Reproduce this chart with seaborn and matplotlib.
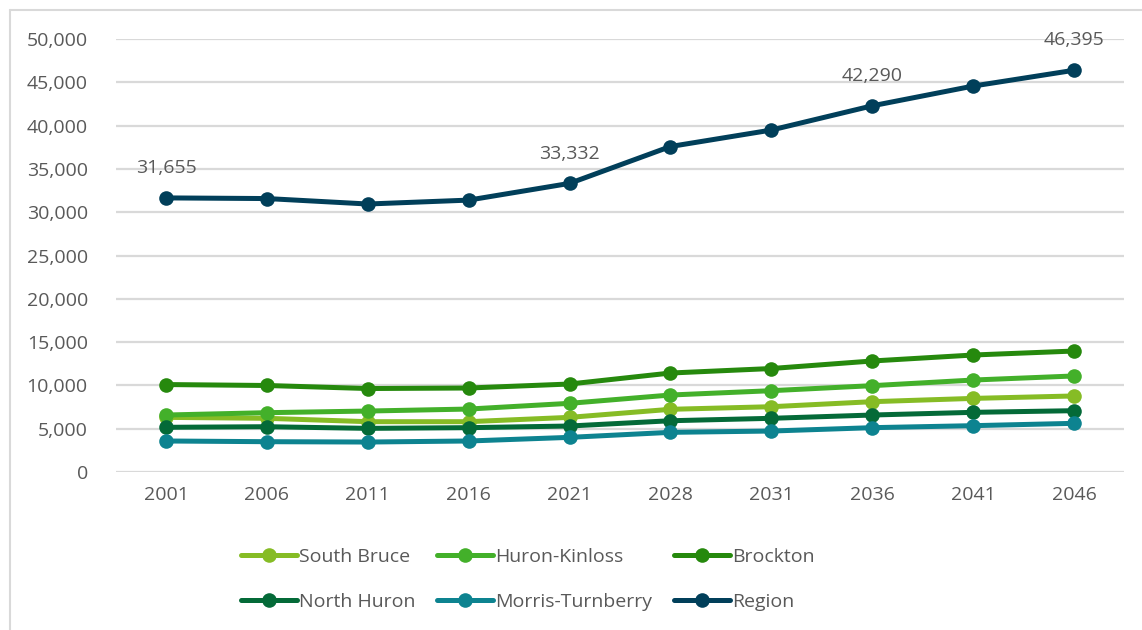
import numpy as np
import pandas as pd
import seaborn as sns
import matplotlib.pyplot as plt
from matplotlib.lines import Line2D

years = ["2001", "2006", "2011", "2016", "2021", "2028", "2031", "2036", "2041", "2046"]

south_bruce = [6310, 6200, 5810, 5810, 6310, 7240, 7540, 8120, 8500, 8780]
huron_kinloss = [6580, 6850, 7040, 7270, 7930, 8890, 9390, 9970, 10620, 11090]
brockton = [10100, 9990, 9640, 9700, 10160, 11430, 11950, 12820, 13510, 13970]
north_huron = [5160, 5230, 5040, 5120, 5310, 5920, 6200, 6580, 6890, 7080]
morris_turnberry = [3580, 3500, 3460, 3580, 4000, 4580, 4730, 5120, 5350, 5620]
region = [31655, 31580, 30950, 31400, 33332, 37590, 39490, 42290, 44570, 46395]

series_names = ["South Bruce", "Huron-Kinloss", "Brockton", "North Huron", "Morris-Turnberry", "Region"]
colors = ["#86BC25", "#43B02A", "#26890D", "#046A38", "#0D8390", "#013F5A"]

# labelled points on the Region line
label_years = ["2001", "2021", "2036", "2046"]

df = pd.DataFrame({
    "year": years * 6,
    "value": south_bruce + huron_kinloss + brockton + north_huron + morris_turnberry + region,
    "series": np.repeat(series_names, len(years)),
})

sns.set_style("white")
plt.rcParams["font.family"] = ["Open Sans", "DejaVu Sans"]
text_color = "#595959"
lw = 3.6
ms = 10.5

fig = plt.figure(figsize=(11.42, 6.3), dpi=100)
ax = fig.add_axes([0.1012, 0.2508, 0.8834, 0.6872])

for name, c in zip(series_names, colors):
    sub = df[df["series"] == name]
    sns.lineplot(data=sub, x="year", y="value", ax=ax, color=c, linewidth=lw,
                 marker="o", markersize=ms, markeredgewidth=0, sort=False, legend=False)

reg = df[df["series"] == "Region"]
for _, row in reg[reg["year"].isin(label_years)].iterrows():
    ax.annotate(f"{row['value']:,}", (years.index(row["year"]), row["value"]),
                xytext=(0, 15), textcoords="offset points", ha="center", va="bottom",
                fontsize=14, color=text_color)

ax.set_xlim(-0.5, len(years) - 0.5)
ax.set_ylim(0, 50000)
ax.set_yticks(np.arange(0, 50001, 5000))
ax.yaxis.set_major_formatter(plt.FuncFormatter(lambda v, p: f"{int(v):,}"))
ax.grid(axis="y", color="#D9D9D9", linewidth=1.6)
ax.set_axisbelow(True)
for s in ax.spines.values():
    s.set_visible(False)
ax.tick_params(axis="both", length=0, labelsize=14, labelcolor=text_color)
ax.tick_params(axis="y", pad=20)
ax.tick_params(axis="x", pad=10)
ax.set_xlabel("")
ax.set_ylabel("")

# legend fills column by column, so reorder to get the row layout of the original
order = [0, 3, 1, 4, 2, 5]
handles = [Line2D([0], [0], color=colors[i], linewidth=lw, marker="o", markersize=ms,
                  markeredgewidth=0) for i in order]
fig.legend(handles, [series_names[i] for i in order], ncol=3, loc="center",
           bbox_to_anchor=(0.462, 0.08), frameon=False, fontsize=14,
           handlelength=2.9, handletextpad=0.1, columnspacing=1.1, labelspacing=1.4,
           labelcolor=text_color)

# thin border of the original chart area (left and top only)
fig.add_artist(Line2D([0.0088, 0.0088], [0, 0.984], color="#D9D9D9", linewidth=1.5))
fig.add_artist(Line2D([0.0088, 1], [0.984, 0.984], color="#D9D9D9", linewidth=1.5))

fig.savefig("out.png", dpi=100)
